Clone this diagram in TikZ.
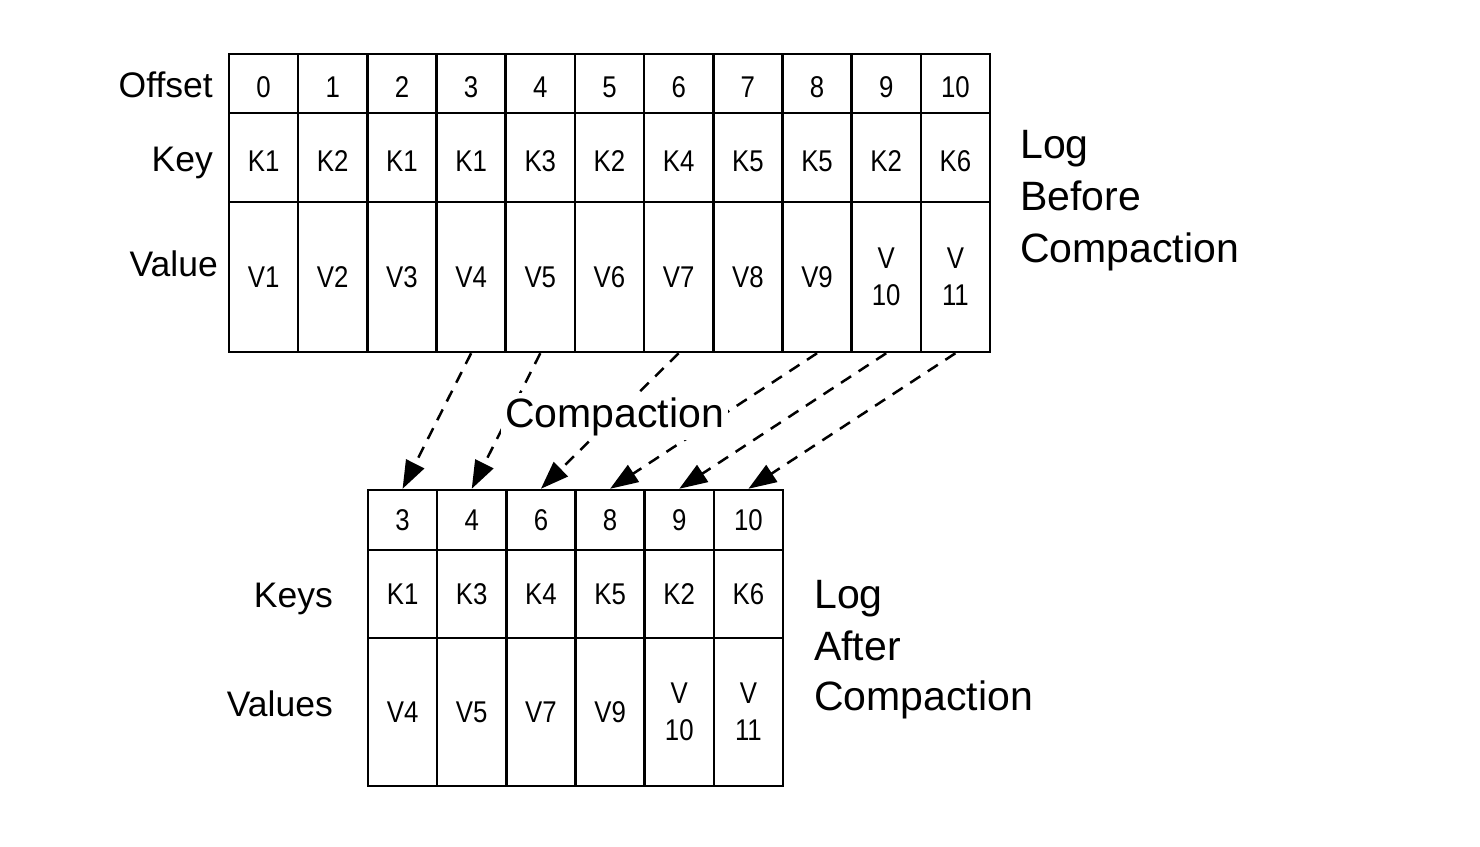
\documentclass[tikz,border=0pt]{standalone}
\usepackage{fontspec}
\setmainfont{Liberation Sans}
\newfontfamily\cellfont[FakeStretch=0.86]{Liberation Sans}
\usetikzlibrary{arrows.meta}
\begin{document}
\begin{tikzpicture}[x=1pt,y=-1pt,
  cell/.style={draw, line width=2.5pt, inner sep=0pt, minimum width=69.2pt,
    font=\cellfont\fontsize{30}{37}\selectfont, align=center},
  lowtext/.style={text height=27pt, text depth=0pt},
  rowlabel/.style={inner sep=0pt, font=\fontsize{35.5}{40}\selectfont},
  biglabel/.style={inner sep=0pt, font=\fontsize{41}{52}\selectfont},
  conn/.style={line width=2.5pt, dash pattern=on 12pt off 9pt,
    -{Triangle[length=28pt,width=20pt]}}
]
\useasboundingbox (0,0) rectangle (1480,846);
% top table
\foreach \t [count=\i from 0] in {0,1,2,3,4,5,6,7,8,9,10}
  \node[cell, lowtext, minimum height=59pt] (to\i) at ({229+69.18*(\i+0.5)},83.5) {\t};
\foreach \t [count=\i from 0] in {K1,K2,K1,K1,K3,K2,K4,K5,K5,K2,K6}
  \node[cell, lowtext, minimum height=89pt] (tk\i) at ({229+69.18*(\i+0.5)},157.5) {\t};
\foreach \t [count=\i from 0] in {V1,V2,V3,V4,V5,V6,V7,V8,V9,{V\\10},{V\\11}}
  \node[cell, minimum height=150pt] (tv\i) at ({229+69.18*(\i+0.5)},277) {\t};
% bottom table
\foreach \t [count=\i from 0] in {3,4,6,8,9,10}
  \node[cell, minimum height=60pt] (bo\i) at ({368+69.17*(\i+0.5)},520) {\t};
\foreach \t [count=\i from 0] in {K1,K3,K4,K5,K2,K6}
  \node[cell, minimum height=88pt] (bk\i) at ({368+69.17*(\i+0.5)},594) {\t};
\foreach \t [count=\i from 0] in {V4,V5,V7,V9,{V\\10},{V\\11}}
  \node[cell, minimum height=148pt] (bv\i) at ({368+69.17*(\i+0.5)},712) {\t};
% row labels
\node[rowlabel, anchor=base east] (loff) at (213,97) {Offset};
\node[rowlabel, anchor=base east] (lkey) at (213,171) {Key};
\node[rowlabel, anchor=base east] (lval) at (218,276) {Value};
\node[rowlabel, anchor=base east] (lkeys) at (333,607) {Keys};
\node[rowlabel, anchor=base east] (lvals) at (333,716) {Values};
% connectors
\foreach \a/\b in {3/0,4/1,6/2,8/3,9/4,10/5}
  \draw[conn] (tv\a.south) -- (bo\b.north);
\node[biglabel, anchor=base west, fill=white, inner sep=4pt] (comp) at (501,427) {Compaction};
% side labels
\node[biglabel, anchor=base west] (lb1) at (1020,158) {Log};
\node[biglabel, anchor=base west] (lb2) at (1020,210) {Before};
\node[biglabel, anchor=base west] (lb3) at (1020,262) {Compaction};
\node[biglabel, anchor=base west] (la1) at (814,608) {Log};
\node[biglabel, anchor=base west] (la2) at (814,660) {After};
\node[biglabel, anchor=base west] (la3) at (814,710) {Compaction};
\end{tikzpicture}
\end{document}
